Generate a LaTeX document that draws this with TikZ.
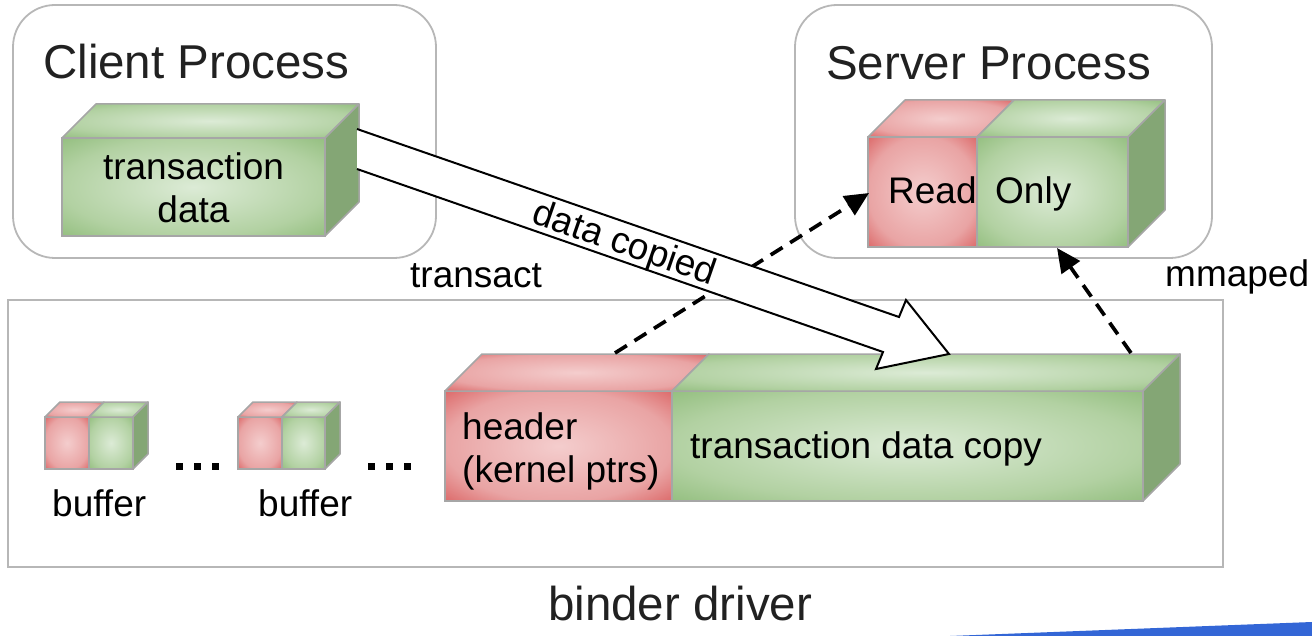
\documentclass[tikz,border=0pt]{standalone}
\usepackage{fontspec}
\setmainfont{Liberation Sans}
\usetikzlibrary{arrows.meta}
\definecolor{boxgray}{HTML}{B7B7B7}
\definecolor{edgegray}{HTML}{A6A6A6}
\definecolor{redin}{HTML}{F4CDCD}
\definecolor{redmid}{HTML}{E9A4A4}
\definecolor{redout}{HTML}{DC6A6A}
\definecolor{greenin}{HTML}{DCEBD6}
\definecolor{greenmid}{HTML}{B2D1A2}
\definecolor{greenout}{HTML}{94BF80}
\definecolor{greenside}{HTML}{84A675}
\definecolor{blueband}{HTML}{3366D6}
\definecolor{txtdark}{HTML}{212121}
\pgfdeclareradialshading{rshade}{\pgfpoint{0bp}{0bp}}{color(0bp)=(redin); color(25bp)=(redmid); color(35.5bp)=(redout); color(50bp)=(redout)}
\pgfdeclareradialshading{gshade}{\pgfpoint{0bp}{0bp}}{color(0bp)=(greenin); color(25bp)=(greenmid); color(35.5bp)=(greenout); color(50bp)=(greenout)}
\newcommand{\fbig}{\fontsize{47.5}{57}\selectfont}
\newcommand{\fsmall}{\fontsize{37}{43}\selectfont}
% segment of a cuboid: shading, x1, x2, ytop, ybot, depth
\newcommand{\cubeseg}[6]{%
  \shadedraw[shading=#1, draw=edgegray, line width=1.5] (#2,#4) rectangle (#3,#5);
  \shadedraw[shading=#1, draw=edgegray, line width=1.5, line join=round] (#2,#4) -- ({#2+#6},{#4-#6}) -- ({#3+#6},{#4-#6}) -- (#3,#4) -- cycle;
}
% right side of a cuboid: x, ytop, ybot, depth
\newcommand{\cubeside}[4]{%
  \filldraw[fill=greenside, draw=edgegray, line width=1.5, line join=round] (#1,#2) -- ({#1+#4},{#2-#4}) -- ({#1+#4},{#3-#4}) -- (#1,#3) -- cycle;
}
\tikzset{
  procbox/.style={draw=boxgray, line width=1.8, rounded corners=42},
  drvbox/.style={draw=boxgray, line width=2},
  bigtxt/.style={font=\fbig, text=txtdark, inner sep=0, anchor=base west},
  smalltxt/.style={font=\fsmall, text=black, inner sep=0},
  mapline/.style={line width=3.7, dash pattern=on 14pt off 9pt, -{Triangle[length=24pt,width=22pt]}},
  hollow/.style={line width=2, line join=miter},
}
\begin{document}
\begin{tikzpicture}[x=1pt,y=-1pt]
\useasboundingbox (0,0) rectangle (1312,636);
% containers
\draw[procbox] (13,5) rectangle (436,258);
\draw[procbox] (795,5) rectangle (1212,258);
\draw[drvbox] (8,300) rectangle (1223,567);
\node[bigtxt] (client) at (43,79) {Client Process};
\node[bigtxt] (server) at (826,80) {Server Process};
% client cuboid
\cubeseg{gshade}{62}{325}{138}{236}{34}
\cubeside{325}{138}{236}{34}
\node[smalltxt, align=center, anchor=center] (cdata) at (193.5,188) {transaction\\data};
% server cuboid
\cubeseg{rshade}{868}{977}{137}{247}{37}
\cubeseg{gshade}{977}{1128}{137}{247}{37}
\cubeside{1128}{137}{247}{37}
\node[smalltxt, anchor=base west] (read) at (888,204) {Read};
\node[smalltxt, anchor=base west] (only) at (995,204) {Only};
% buffers
\cubeseg{rshade}{45}{89}{417}{469}{15}
\cubeseg{gshade}{89}{133}{417}{469}{15}
\cubeside{133}{417}{469}{15}
\cubeseg{rshade}{238}{282}{417}{469}{15}
\cubeseg{gshade}{282}{325}{417}{469}{15}
\cubeside{325}{417}{469}{15}
\node[smalltxt, anchor=base west] (buf1) at (52,516) {buffer};
\node[smalltxt, anchor=base west] (buf2) at (258,516) {buffer};
\foreach \dx in {176,194,212,368,386,404}{\fill (\dx,463) rectangle ({\dx+6.5},470);}
% big cuboid
\cubeseg{rshade}{445}{672}{391}{501}{37}
\cubeseg{gshade}{672}{1143}{391}{501}{37}
\cubeside{1143}{391}{501}{37}
\node[smalltxt, align=left, anchor=west] (hdr) at (462,451) {header\\(kernel ptrs)};
\node[smalltxt, anchor=base west] (copy) at (690,458) {transaction data copy};
% connector ends
\coordinate (hdrtop) at (615,353);
\coordinate (readleft) at (869,193);
\coordinate (copytop) at (1131,353);
\coordinate (onlybot) at (1057,248);
\draw[mapline] (hdrtop) -- (readleft);
\draw[mapline] (copytop) -- (onlybot);
% hollow arrow
\coordinate (a1) at (357,129);
\coordinate (a2) at (899,317);
\coordinate (a3) at (906,300);
\coordinate (tip) at (949,354);
\coordinate (a5) at (876,369);
\coordinate (a6) at (883,352);
\coordinate (a7) at (357,169);
\fill[white] (a1) -- (a2) -- (a3) -- (tip) -- (a5) -- (a6) -- (a7) -- cycle;
\draw[hollow] (a1) -- (a2) -- (a3) -- (tip) -- (a5) -- (a6) -- (a7);
\node[smalltxt, rotate=-19.1, anchor=center] (copied) at (624,245) {data copied};
% labels
\node[smalltxt, anchor=base west] (transact) at (410,288) {transact};
\node[smalltxt, anchor=base west] (mmaped) at (1165,287) {mmaped};
\node[bigtxt] (binder) at (548,620) {binder driver};
% blue band
\fill[blueband] (950,636) -- (1312,622) -- (1312,636) -- cycle;
\end{tikzpicture}
\end{document}
